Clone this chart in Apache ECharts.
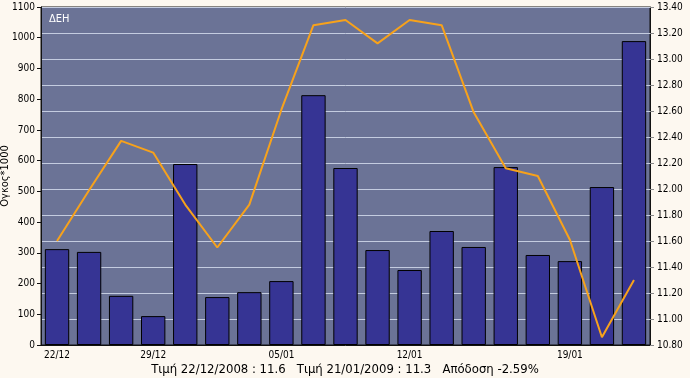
<!DOCTYPE html>
<html>
<head>
<meta charset="utf-8">
<script src="https://cdn.jsdelivr.net/npm/echarts@6/dist/echarts.min.js"></script>
<style>
  html, body { margin: 0; padding: 0; background: #fdf8f0; }
  #chart { width: 690px; height: 378px; }
</style>
</head>
<body>
<div id="chart"></div>
<script>
// trading days, 22/12/2008 - 21/01/2009
const days = ['22/12', '23/12', '24/12', '29/12', '30/12', '31/12', '02/01', '05/01', '07/01', '08/01',
              '09/01', '12/01', '13/01', '14/01', '15/01', '16/01', '19/01', '20/01', '21/01'];
const shownDays = [0, 3, 7, 11, 16];
// volume (x1000)
const volume = [312, 303, 160, 94, 589, 156, 172, 208, 813, 576,
                309, 244, 371, 319, 579, 293, 273, 514, 989];
// closing price
const price = [11.60, 11.99, 12.37, 12.28, 11.88, 11.55, 11.88, 12.61, 13.26, 13.30,
               13.12, 13.30, 13.26, 12.59, 12.16, 12.10, 11.61, 10.86, 11.30];

const font = 'Tahoma, "DejaVu Sans Condensed", "DejaVu Sans", sans-serif';

function shown(idx) {
    return shownDays.indexOf(idx) >= 0;
}

let chart = echarts.init(document.getElementById('chart'));
chart.setOption({
    backgroundColor: '#fdf8f0',
    animation: false,
    title: [{
        text: 'ΔΕΗ',
        left: 44,
        top: 9,
        textStyle: { color: '#ffffff', fontSize: 11, fontWeight: 'normal', fontFamily: font }
    }, {
        text: 'Τιμή 22/12/2008 : 11.6   Τιμή 21/01/2009 : 11.3   Απόδοση -2.59%',
        left: 'center',
        top: 358,
        textStyle: { color: '#000000', fontSize: 13, fontWeight: 'normal', fontFamily: font }
    }],
    grid: {
        left: 41,
        right: 40,
        top: 7,
        bottom: 33,
        outerBoundsMode: 'none',
        containLabel: false,
        show: true,
        backgroundColor: '#6b7396',
        borderColor: '#111111',
        borderWidth: 1
    },
    xAxis: {
        type: 'category',
        data: days,
        axisLine: { lineStyle: { color: '#111111' } },
        axisTick: {
            alignWithLabel: true,
            interval: function (idx) { return shown(idx); },
            length: 4,
            lineStyle: { color: '#111111' }
        },
        axisLabel: {
            interval: function (idx) { return shown(idx); },
            color: '#000000',
            fontSize: 10,
            fontFamily: font,
            margin: 5
        },
        splitLine: { show: false }
    },
    yAxis: [{
        type: 'value',
        name: 'Ογκος*1000',
        nameLocation: 'middle',
        nameGap: 30,
        nameRotate: 90,
        nameMoveOverlap: false,
        nameTextStyle: { color: '#000000', fontSize: 11, fontFamily: font },
        min: 0,
        max: 1100,
        interval: 100,
        axisLine: { show: true, lineStyle: { color: '#111111' } },
        axisTick: { show: true, length: 4, lineStyle: { color: '#111111' } },
        axisLabel: {
            color: '#000000',
            fontSize: 10,
            fontFamily: font,
            margin: 6,
            formatter: function (v) { return String(v); }
        },
        splitLine: { show: false }
    }, {
        type: 'value',
        position: 'right',
        min: 10.8,
        max: 13.4,
        interval: 0.2,
        axisLine: { show: true, lineStyle: { color: '#111111' } },
        axisTick: { show: true, length: 4, lineStyle: { color: '#888888' } },
        axisLabel: {
            color: '#000000',
            fontSize: 10,
            fontFamily: font,
            margin: 7,
            formatter: function (v) { return v.toFixed(2); }
        },
        splitLine: { show: true, lineStyle: { color: '#c4cce0', width: 1 } }
    }],
    series: [{
        type: 'bar',
        yAxisIndex: 0,
        data: volume,
        barCategoryGap: '24%',
        itemStyle: { color: '#363494', borderColor: '#000000', borderWidth: 1 }
    }, {
        type: 'line',
        yAxisIndex: 1,
        data: price,
        showSymbol: false,
        symbol: 'none',
        lineStyle: { color: '#f7a21b', width: 2 },
        z: 5
    }]
});
</script>
</body>
</html>
